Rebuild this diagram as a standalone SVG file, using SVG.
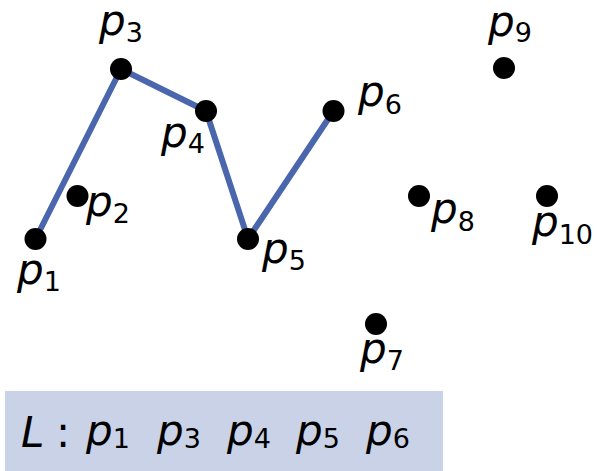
<svg xmlns="http://www.w3.org/2000/svg" width="597" height="471" viewBox="0 0 597 471">
<style>
.lbl{font-family:"DejaVu Sans",sans-serif;font-style:oblique;font-size:42px;fill:#000}
.sub{font-style:normal;font-size:27px}
.dot{fill:#000}
.path{fill:none;stroke:#4a66ad;stroke-width:6;stroke-linejoin:miter}
</style>
<rect id="list-box" x="5" y="391" width="438" height="80" fill="#c9d2e6"/>
<g id="connectors">
<polyline class="path" points="35.5,239 121,69 206,111 248,239 333.5,111"/>
</g>
<g id="p1"><circle class="dot" cx="35.5" cy="239" r="11"/><text class="lbl" x="17" y="284">p<tspan class="sub" dy="7">1</tspan></text></g>
<g id="p2"><circle class="dot" cx="77.5" cy="196" r="11"/><text class="lbl" x="86" y="216">p<tspan class="sub" dy="7">2</tspan></text></g>
<g id="p3"><circle class="dot" cx="121" cy="69" r="11"/><text class="lbl" x="99" y="35">p<tspan class="sub" dy="7">3</tspan></text></g>
<g id="p4"><circle class="dot" cx="206" cy="111" r="11"/><text class="lbl" x="161" y="147">p<tspan class="sub" dy="6">4</tspan></text></g>
<g id="p5"><circle class="dot" cx="248" cy="239" r="11"/><text class="lbl" x="262" y="263">p<tspan class="sub" dy="7">5</tspan></text></g>
<g id="p6"><circle class="dot" cx="333.5" cy="111" r="11"/><text class="lbl" x="358" y="106">p<tspan class="sub" dy="8">6</tspan></text></g>
<g id="p7"><circle class="dot" cx="376" cy="324" r="11"/><text class="lbl" x="360" y="363">p<tspan class="sub" dy="7">7</tspan></text></g>
<g id="p8"><circle class="dot" cx="419" cy="196" r="11"/><text class="lbl" x="431" y="223">p<tspan class="sub" dy="8">8</tspan></text></g>
<g id="p9"><circle class="dot" cx="504" cy="68" r="11"/><text class="lbl" x="488" y="36">p<tspan class="sub" dy="6">9</tspan></text></g>
<g id="p10"><circle class="dot" cx="547" cy="196" r="11"/><text class="lbl" x="532" y="236">p<tspan class="sub" dy="8">10</tspan></text></g>
<g id="list">
<text class="lbl" x="21" y="447" font-size="46">L</text>
<text x="56" y="447" font-family="DejaVu Sans,sans-serif" font-size="42">:</text>
<text class="lbl" x="86" y="445">p<tspan class="sub" dy="3">1</tspan></text>
<text class="lbl" x="157" y="445">p<tspan class="sub" dy="3">3</tspan></text>
<text class="lbl" x="227" y="445">p<tspan class="sub" dy="3">4</tspan></text>
<text class="lbl" x="296" y="445">p<tspan class="sub" dy="3">5</tspan></text>
<text class="lbl" x="366" y="445">p<tspan class="sub" dy="3">6</tspan></text>
</g>
</svg>
